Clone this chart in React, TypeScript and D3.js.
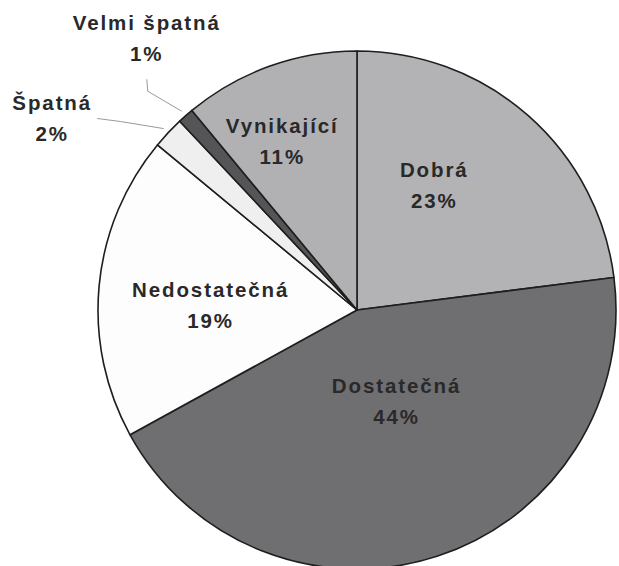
import React, { useEffect, useRef } from "react";
import * as d3 from "d3";

const categories = ["Dobrá", "Dostatečná", "Nedostatečná", "Špatná", "Velmi špatná", "Vynikající"];
const values = [23, 44, 19, 2, 1, 11];
const colors = ["#b3b3b5", "#6f6f72", "#fdfdfd", "#efefef", "#555557", "#b1b1b3"];
// label nudges from the slice centroid
const nudges = [[-16, -27], [-4, -51], [-6, 0], [-202, -103], [-117, -174], [-27, -44]];
const outside = [false, false, false, true, true, false];

function App() {
  const ref = useRef<HTMLDivElement>(null);

  useEffect(() => {
    const width = 619;
    const height = 566;
    const cx = 357;
    const cy = 310;
    const radius = 259;

    d3.select(ref.current).select("svg").remove();

    const svg = d3
      .select(ref.current)
      .append("svg")
      .attr("width", width)
      .attr("height", height)
      .style("position", "absolute")
      .style("left", "0px")
      .style("top", "0px")
      .style("background", "#fff");

    const g = svg.append("g").attr("transform", `translate(${cx}, ${cy})`);

    const data = categories.map((c, i) => ({ key: c, value: values[i], i }));
    const pie = d3.pie<any>().sort(null).value((d) => d.value);
    const arcs = pie(data);

    const arcGen = d3.arc<any>().innerRadius(0).outerRadius(radius);
    const labelArc = d3.arc<any>().innerRadius(141).outerRadius(141);

    g.selectAll("path.slice")
      .data(arcs)
      .enter()
      .append("path")
      .attr("class", "slice")
      .attr("d", arcGen)
      .attr("fill", (d) => colors[d.data.i])
      .attr("stroke", "#1e1e1e")
      .attr("stroke-width", 1.6)
      .attr("stroke-linejoin", "round");

    arcs.forEach((d) => {
      const i = d.data.i;
      const [x0, y0] = labelArc.centroid(d);
      const x = x0 + nudges[i][0];
      const y = y0 + nudges[i][1];

      if (outside[i]) {
        const mid = (d.startAngle + d.endAngle) / 2;
        const ex = (radius + 6) * Math.sin(mid);
        const ey = -(radius + 6) * Math.cos(mid);
        const pts =
          categories[i] === "Špatná"
            ? [[x + 45, y + 8], [x + 68, y + 11], [ex, ey]]
            : [[x, y + 49], [x + 1, y + 61], [ex, ey]];
        g.append("path")
          .attr("d", d3.line()(pts as [number, number][]))
          .attr("fill", "none")
          .attr("stroke", "#9a9a9a")
          .attr("stroke-width", 1);
      }

      const t = g
        .append("text")
        .attr("text-anchor", "middle")
        .style("font-family", "'Liberation Sans', Arial, sans-serif")
        .style("font-weight", "bold")
        .style("font-size", "20.5px")
        .style("letter-spacing", "1.9px")
        .attr("fill", "#292929");
      t.append("tspan").attr("x", x).attr("y", y).text(d.data.key);
      t.append("tspan").attr("x", x).attr("y", y + 31).text(`${d.data.value}%`);
    });
  }, []);

  return <div ref={ref}></div>;
}

export default App;
